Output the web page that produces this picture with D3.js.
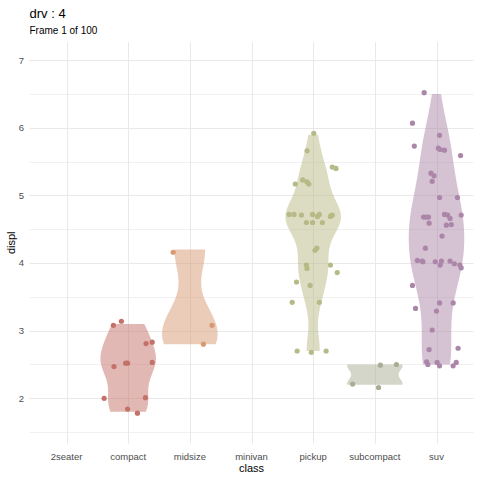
<!DOCTYPE html>
<html>
<head>
<meta charset="utf-8">
<script src="https://cdn.jsdelivr.net/npm/d3@7"></script>
<style>
  body { margin: 0; background: #fff; }
  svg { font-family: "Liberation Sans", Arial, sans-serif; display: block; }
</style>
</head>
<body>
<svg width="480" height="480"></svg>
<script>
// classes on the x axis
const classes = ["2seater", "compact", "midsize", "minivan", "pickup", "subcompact", "suv"];

// point data per class: [displ, x jitter (fraction of band), y jitter]
const compact = [
  [3.1, -0.11, 0.04], [3.1, -0.24, -0.02], [2.8, 0.29, 0.01], [2.8, 0.39, 0.03],
  [2.5, -0.04, 0.02], [2.5, -0.01, 0.02], [2.5, -0.23, -0.03], [2.5, 0.39, 0.03],
  [2.0, -0.39, 0.0], [2.0, 0.28, 0.01], [1.8, -0.01, 0.04], [1.8, 0.15, -0.02]
];
const midsize = [[4.2, -0.27, -0.04], [3.1, 0.36, -0.02], [2.8, 0.22, 0.0]];
const pickup = [
  [5.9, 0.01, 0.02], [5.7, -0.10, -0.04], [5.4, 0.31, 0.02], [5.4, 0.37, 0.0],
  [5.2, -0.17, 0.03], [5.2, -0.10, 0.0], [5.2, -0.07, -0.03], [5.2, -0.29, -0.03],
  [4.7, -0.39, 0.02], [4.7, -0.31, 0.02], [4.7, -0.19, 0.01], [4.7, -0.01, 0.02],
  [4.7, 0.07, -0.01], [4.7, 0.10, 0.02], [4.7, 0.28, -0.01], [4.7, 0.31, 0.01], [4.7, 0.29, 0.0],
  [4.6, -0.11, 0.0], [4.6, -0.01, 0.0], [4.6, 0.15, 0.0],
  [4.2, 0.03, -0.01], [4.2, 0.06, 0.02], [4.0, -0.11, -0.03], [4.0, 0.28, -0.03],
  [3.9, -0.10, 0.02], [3.9, 0.39, -0.04], [3.7, -0.27, 0.02], [3.7, -0.05, -0.03],
  [3.4, -0.34, 0.02], [3.4, 0.10, 0.02],
  [2.7, -0.26, 0.0], [2.7, -0.03, -0.02], [2.7, 0.21, 0.0]
];
const subcompact = [[2.5, 0.09, -0.01], [2.5, 0.35, 0.0], [2.2, -0.36, 0.01], [2.2, 0.06, -0.04]];
const suv = [
  [6.5, -0.20, 0.02], [6.1, -0.39, -0.03], [5.9, 0.05, -0.01], [5.7, -0.36, 0.03],
  [5.7, 0.03, 0.0], [5.7, 0.06, -0.02], [5.7, 0.13, -0.03], [5.6, 0.39, -0.01],
  [5.3, -0.09, 0.03], [5.3, -0.04, -0.01], [5.2, -0.07, 0.01], [5.0, 0.05, -0.03], [5.0, 0.34, -0.03],
  [4.7, -0.21, -0.02], [4.7, -0.17, -0.02], [4.7, -0.13, -0.02], [4.7, 0.13, 0.02],
  [4.7, 0.18, 0.01], [4.7, 0.22, -0.04], [4.7, 0.40, 0.01],
  [4.6, -0.12, -0.01], [4.6, 0.24, -0.03], [4.6, 0.16, -0.04], [4.4, 0.09, 0.0], [4.2, -0.18, 0.02],
  [4.0, -0.31, 0.04], [4.0, -0.23, 0.03], [4.0, -0.02, 0.02], [4.0, 0.06, -0.03], [4.0, 0.08, 0.03],
  [4.0, 0.22, 0.03], [4.0, 0.29, -0.01], [4.0, 0.38, -0.03], [3.9, 0.40, 0.03], [4.0, -0.22, 0.02],
  [3.7, -0.39, -0.03], [3.4, 0.05, 0.01], [3.4, 0.27, 0.01], [3.3, -0.34, 0.03], [3.3, 0.0, -0.01],
  [3.0, -0.07, 0.01], [2.7, -0.12, 0.02], [2.7, 0.35, 0.04],
  [2.5, -0.16, 0.04], [2.5, -0.14, 0.0], [2.5, 0.01, 0.03], [2.5, 0.05, -0.02], [2.5, 0.27, -0.02], [2.5, 0.32, 0.03]
];

const groups = [
  { cls: "compact", pts: compact, color: "#c4716a" },
  { cls: "midsize", pts: midsize, color: "#d89a72" },
  { cls: "pickup", pts: pickup, color: "#b7ba86" },
  { cls: "subcompact", pts: subcompact, color: "#a8ad94" },
  { cls: "suv", pts: suv, color: "#ab86a8" }
];

const yTicks = [2, 3, 4, 5, 6, 7];
const yMinor = [1.5, 2.5, 3.5, 4.5, 5.5, 6.5];
const yDomain = [1.33, 7.27];

const svg = d3.select("svg");
const pLeft = 29.5, pRight = 473.5, pTop = 42, pBottom = 443.6;

const x = d3.scalePoint().domain(classes).range([pLeft, pRight]).padding(0.6);
const band = x.step();
const y = d3.scaleLinear().domain(yDomain).range([pBottom, pTop]);

// grid
const grid = svg.append("g");
grid.selectAll(".minor").data(yMinor).enter().append("line")
  .attr("x1", pLeft).attr("x2", pRight)
  .attr("y1", d => Math.round(y(d)) + 0.5).attr("y2", d => Math.round(y(d)) + 0.5)
  .attr("stroke", "#f1f1f1").attr("stroke-width", 1);
grid.selectAll(".major").data(yTicks).enter().append("line")
  .attr("x1", pLeft).attr("x2", pRight)
  .attr("y1", d => Math.round(y(d)) + 0.5).attr("y2", d => Math.round(y(d)) + 0.5)
  .attr("stroke", "#e9e9e9").attr("stroke-width", 1);
grid.selectAll(".vx").data(classes).enter().append("line")
  .attr("y1", pTop).attr("y2", pBottom)
  .attr("x1", d => Math.round(x(d)) + 0.5).attr("x2", d => Math.round(x(d)) + 0.5)
  .attr("stroke", "#e9e9e9").attr("stroke-width", 1);

// gaussian kde, bw.nrd0, trimmed to data range
function violinPath(vals, cx) {
  const v = vals.slice().sort(d3.ascending);
  const n = v.length;
  const sd = d3.deviation(v);
  const iqr = d3.quantile(v, 0.75) - d3.quantile(v, 0.25);
  let lo = Math.min(sd, iqr / 1.34);
  if (!(lo > 0)) lo = sd || Math.abs(v[0]) || 1;
  const bw = 0.9 * lo * Math.pow(n, -0.2);
  const vmin = v[0], vmax = v[n - 1];
  const ys = d3.range(512).map(i => vmin + (vmax - vmin) * i / 511);
  const dens = ys.map(t => d3.sum(v, xi => Math.exp(-0.5 * ((t - xi) / bw) ** 2)));
  const m = d3.max(dens);
  const half = 0.45 * band;
  const rightSide = ys.map((t, i) => [cx + dens[i] / m * half, y(t)]);
  const leftSide = ys.map((t, i) => [cx - dens[i] / m * half, y(t)]).reverse();
  return d3.line()(rightSide.concat(leftSide)) + "Z";
}

const plot = svg.append("g");
groups.forEach(g => {
  plot.append("path")
    .attr("d", violinPath(g.pts.map(p => p[0]), x(g.cls)))
    .attr("fill", g.color)
    .attr("fill-opacity", 0.5);
});
groups.forEach(g => {
  plot.append("g").selectAll("circle").data(g.pts).enter().append("circle")
    .attr("cx", d => x(g.cls) + d[1] * band)
    .attr("cy", d => y(d[0] + d[2]))
    .attr("r", 2.6)
    .attr("fill", g.color);
});

// axes labels
svg.append("g").selectAll("text").data(yTicks).enter().append("text")
  .attr("x", 24).attr("y", d => y(d) + 3.3)
  .attr("text-anchor", "end").attr("font-size", 9.5).attr("fill", "#4d4d4d")
  .text(d => d);
svg.append("g").selectAll("text").data(classes).enter().append("text")
  .attr("x", d => x(d)).attr("y", 459.5)
  .attr("text-anchor", "middle").attr("font-size", 9.5).attr("fill", "#4d4d4d")
  .text(d => d);

svg.append("text").attr("x", (pLeft + pRight) / 2).attr("y", 472)
  .attr("text-anchor", "middle").attr("font-size", 11).attr("fill", "#000").text("class");
svg.append("text").attr("transform", `translate(15,${(pTop + pBottom) / 2}) rotate(-90)`)
  .attr("text-anchor", "middle").attr("font-size", 11).attr("fill", "#000").text("displ");

svg.append("text").attr("x", 29.5).attr("y", 17.5)
  .attr("font-size", 13).attr("fill", "#000").text("drv : 4");
svg.append("text").attr("x", 29.5).attr("y", 33.5)
  .attr("font-size", 10).attr("fill", "#000").text("Frame 1 of 100");
</script>
</body>
</html>
